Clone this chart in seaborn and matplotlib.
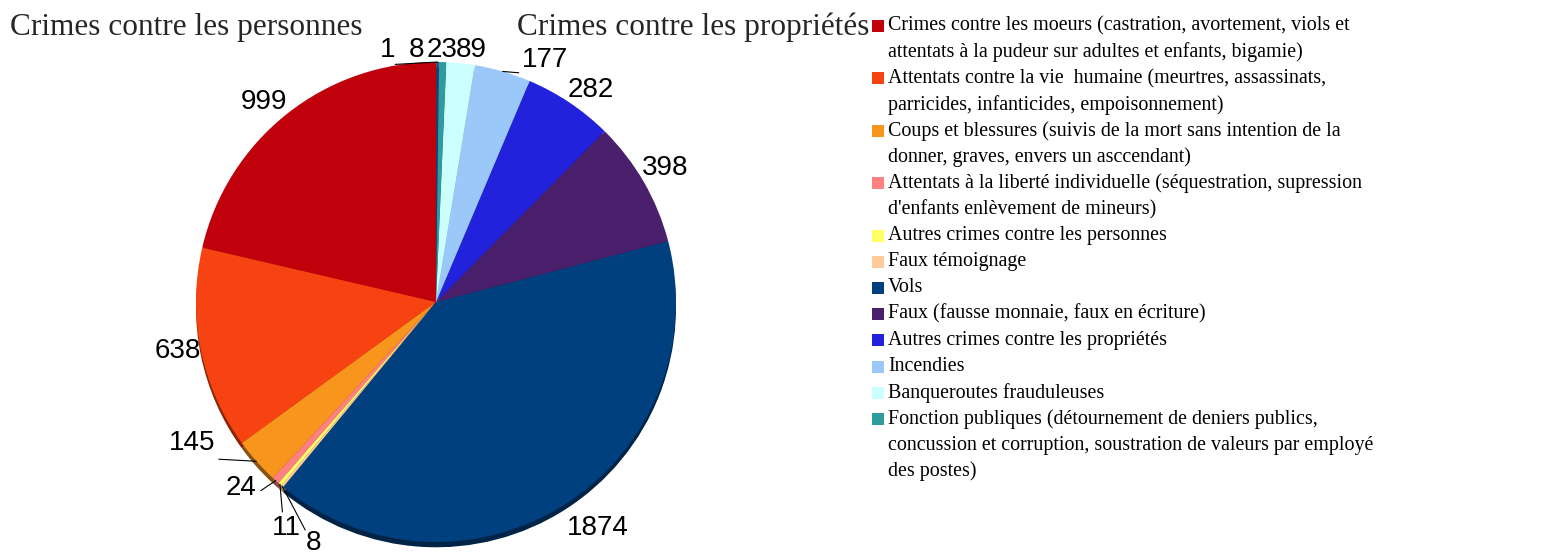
import numpy as np
import seaborn as sns
import matplotlib.pyplot as plt
from matplotlib.patches import Rectangle
from matplotlib.colors import to_rgb

# counts per crime category (slices go counter-clockwise from 12 o'clock)
categories = [
    "Crimes contre les moeurs (castration, avortement, viols et\nattentats à la pudeur sur adultes et enfants, bigamie)",
    "Attentats contre la vie  humaine (meurtres, assassinats,\nparricides, infanticides, empoisonnement)",
    "Coups et blessures (suivis de la mort sans intention de la\ndonner, graves, envers un asccendant)",
    "Attentats à la liberté individuelle (séquestration, supression\nd'enfants enlèvement de mineurs)",
    "Autres crimes contre les personnes",
    "Faux témoignage",
    "Vols",
    "Faux (fausse monnaie, faux en écriture)",
    "Autres crimes contre les propriétés",
    "Incendies",
    "Banqueroutes frauduleuses",
    "Fonction publiques (détournement de deniers publics,\nconcussion et corruption, soustration de valeurs par employé\ndes postes)",
    None,
    None,
]
counts = [999, 638, 145, 24, 11, 8, 1874, 398, 282, 177, 89, 23, 8, 1]
colors = ["#C0000B", "#F74311", "#F8951D", "#FF8080", "#FFFF66", "#FFCC99",
          "#00407F", "#4A1F6B", "#2222DD", "#99C8F9", "#CCFFFF", "#2E9C9C",
          "#1C3F7C", "#0F2F5F"]

# label anchors (in pie radii from the centre), alignment, leader-line end
label_xy = [(-0.62, 0.833), (-0.98, -0.204), (-0.92, -0.5875), (-0.746, -0.775),
            (-0.625, -0.942), (-0.512, -1.005), (0.546, -0.942), (0.858, 0.558),
            (0.55, 0.883), (0.358, 1.008), (0.146, 1.05), (0.025, 1.05),
            (-0.083, 1.05), (-0.2, 1.05)]
label_ha = ["right", "right", "right", "right", "center", "center", "left", "left",
            "left", "left", "center", "center", "center", "center"]
leader_end = [None, None, (-0.905, -0.655), (-0.73, -0.786), (-0.64, -0.875),
              (-0.545, -0.95), None, None, None, (0.345, 0.955), None, None,
              (-0.17, 0.99), None]

sns.set_style("white")
plt.rcParams["font.family"] = ["Liberation Sans", "DejaVu Sans"]

W, H = 1552, 556
fig = plt.figure(figsize=(W / 100, H / 100), dpi=100)
ax = fig.add_axes([0, 0, 1, 1])

cx, cy, R = 436, 302, 240  # pixels

# depth shadow for the 3D look
dark = [tuple(c * 0.55 for c in to_rgb(col)) for col in colors]
ax.pie(counts, colors=dark, startangle=90, counterclock=True,
       radius=1, center=(0, -0.022), wedgeprops=dict(linewidth=0))
wedges, _ = ax.pie(counts, colors=colors, startangle=90, counterclock=True,
                   radius=1, center=(0, 0), wedgeprops=dict(linewidth=0))

for w, n, (tx, ty), ha, lead in zip(wedges, counts, label_xy, label_ha, leader_end):
    ax.text(tx, ty, str(n), ha=ha, va="center", fontsize=20, color="black")
    if lead:
        mid = np.deg2rad((w.theta1 + w.theta2) / 2)
        ax.plot([np.cos(mid), lead[0]], [np.sin(mid), lead[1]], color="black", lw=0.8)

ax.set_xlim(-cx / R, (W - cx) / R)
ax.set_ylim(-(H - cy) / R, cy / R)
ax.set_aspect("auto")
ax.axis("off")

serif = ["Liberation Serif", "DejaVu Serif"]
fig.text(10 / W, 1 - 27 / H, "Crimes contre les personnes", family=serif,
         fontsize=22.5, ha="left", va="center")
fig.text(517 / W, 1 - 27 / H, "Crimes contre les propriétés", family=serif,
         fontsize=22.5, ha="left", va="center")

# legend, one text line per row, marker beside the first line of each entry
line_y, step = 26, 26.2
for col, lab in zip(colors, categories):
    if lab is None:
        continue
    fig.patches.append(Rectangle((872 / W, 1 - (line_y + 6) / H), 12 / W, 12 / H,
                                 transform=fig.transFigure, facecolor=col,
                                 edgecolor="none"))
    for part in lab.split("\n"):
        fig.text(888 / W, 1 - line_y / H, part, family=serif, fontsize=14.4,
                 ha="left", va="center", color="black")
        line_y += step

fig.savefig("out.png", dpi=100)
